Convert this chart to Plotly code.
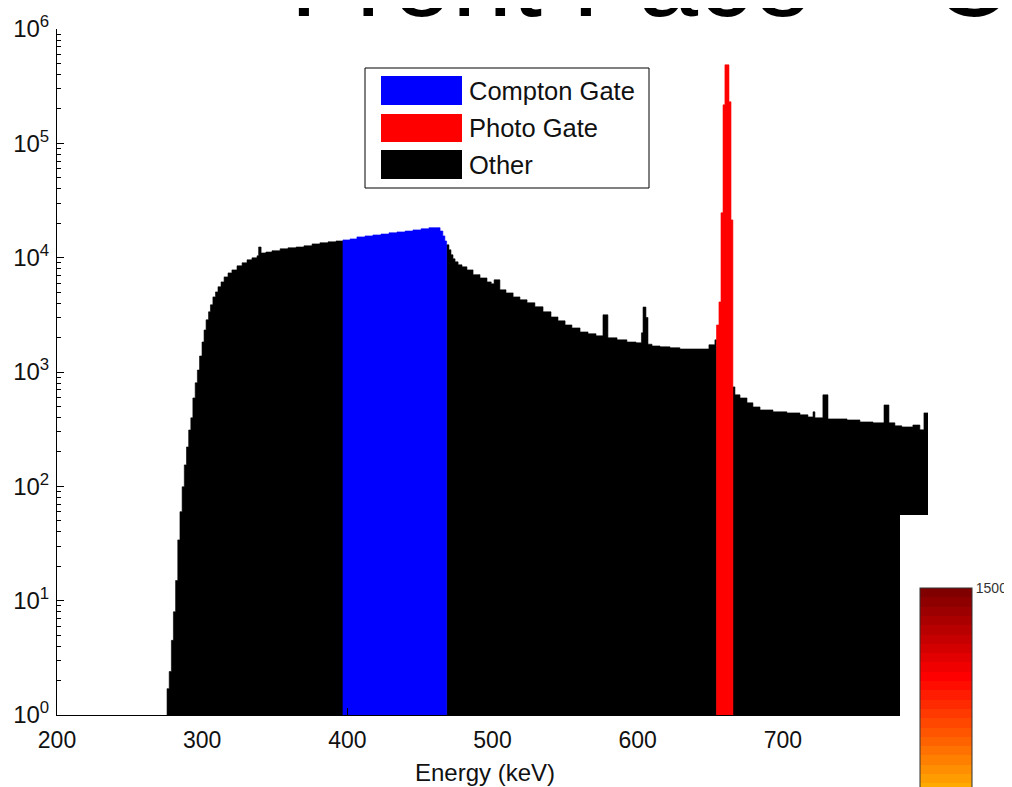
import plotly.graph_objects as go

# ---------------- data ----------------
# left edge of each histogram step (keV) and its counts
energy = [
    275.8, 277.3, 278.8, 280.2, 281.7, 283.2, 284.7, 286.2, 287.7, 289.2,
    290.7, 292.2, 293.6, 295.2, 296.7, 298.2, 299.9, 301.3, 302.7, 304.4,
    305.7, 307.4, 309.2, 310.9, 313.0, 315.1, 317.8, 320.5, 324.0, 327.5,
    330.9, 334.3, 337.8, 338.9, 340.6, 343.9, 348.1, 353.7, 359.1, 364.7,
    370.1, 375.7, 381.1, 386.7, 392.2,
    397.0, 401.9, 406.6, 412.2, 417.6, 423.2, 428.7, 434.2, 439.8, 445.2,
    450.8, 456.2, 463.9, 465.8, 467.2,
    468.4, 470.0, 471.4, 472.8, 474.2, 476.3, 479.0, 482.4, 486.6, 491.4,
    496.2, 499.1, 501.1, 505.1, 509.3, 514.2, 518.9, 523.8, 529.2, 534.8,
    540.3, 545.1, 550.0, 554.7, 560.3, 565.8, 571.3, 576.1, 579.5, 585.8,
    592.6, 598.9, 602.6, 603.7, 605.7, 607.1, 609.9, 615.4, 622.3, 629.1,
    637.4, 644.3, 649.1, 653.2,
    654.3, 656.0, 657.4, 658.8, 660.1, 662.9, 664.3,
    665.6, 667.0, 670.5, 675.3, 679.4, 684.3, 693.2, 702.8, 711.8, 717.3,
    720.8, 722.1, 727.6, 731.1, 735.9, 744.2, 753.1, 762.1, 769.7, 773.1,
    777.2, 782.0, 789.6, 794.4, 797.2,
]
counts = [
    1.7, 2.4, 4.5, 8.0, 15, 34, 60, 99, 154, 221,
    311, 397, 593, 804, 1040, 1380, 1830, 2330, 2860, 3360,
    3870, 4540, 5020, 5560, 6140, 6790, 7360, 7820, 8480, 9010,
    9570, 9960, 10380, 12400, 11000, 11200, 11500, 11950, 12200, 12400,
    12700, 13200, 13500, 13750, 14000,
    14300, 14600, 15200, 15500, 15800, 16100, 16500, 16800, 17100, 17500,
    17900, 18300, 17100, 15500, 14000,
    12950, 11700, 10600, 9770, 9190, 8650, 8310, 7820, 7100, 6650,
    6140, 5900, 6400, 5230, 4920, 4540, 4280, 4030, 3720, 3360,
    3030, 2800, 2580, 2430, 2240, 2160, 2070, 3160, 1990, 1910,
    1830, 1800, 2200, 3700, 3000, 1750, 1690, 1660, 1630, 1590,
    1590, 1590, 1730, 1910,
    2580, 4100, 24700, 217000, 486000, 231000, 21400,
    741, 631, 593, 537, 495, 466, 448, 439, 422, 405,
    448, 397, 631, 389, 389, 381, 366, 359, 515, 359,
    338, 331, 344, 312, 439,
]
energy_end = 800.0

compton_gate = (397.0, 468.4)
photo_gate = (654.3, 665.6)

categories = ["Compton Gate", "Photo Gate", "Other"]
colors = {"Compton Gate": "#0000FF", "Photo Gate": "#FF0000", "Other": "#000000"}

x_ticks = [200, 300, 400, 500, 600, 700]
y_ticks = [1, 10, 100, 1000, 10000, 100000, 1000000]
y_ticktext = ["10<sup>%d</sup>" % k for k in range(7)]
cbar_max = 1500

# ---------------- figure geometry helpers ----------------
W, H = 1012, 787
OFF = 8                      # page body margin of the browser
L, R, T, B = 57, 928, 29, 715   # plot area in window pixels


def px(xp):
    return (xp - L) / (R - L)


def py(yp):
    return (B - yp) / (B - T)


def category(e):
    if compton_gate[0] <= e < compton_gate[1]:
        return "Compton Gate"
    if photo_gate[0] <= e < photo_gate[1]:
        return "Photo Gate"
    return "Other"


edges = energy + [energy_end]
runs = []
for i, e in enumerate(energy):
    c = category(e)
    if runs and runs[-1][0] == c:
        runs[-1][1].append(i)
    else:
        runs.append([c, [i]])

BASE = 0.1
fig = go.Figure()
for order in ["Other", "Compton Gate", "Photo Gate"]:
    for cat, idx in runs:
        if cat != order:
            continue
        xs, ys = [edges[idx[0]]], [BASE]
        for k in idx:
            xs += [edges[k], edges[k + 1]]
            ys += [counts[k], counts[k]]
        xs.append(edges[idx[-1] + 1])
        ys.append(BASE)
        fig.add_trace(go.Scatter(
            x=xs, y=ys, mode="lines", fill="toself",
            fillcolor=colors[cat], line=dict(color=colors[cat], width=0.6),
            showlegend=False, hoverinfo="skip"))

# hot colormap (48 levels), shown from dark red at the top downwards
def hot(i, m=48):
    n = int(3 * m / 8)
    r = min(1.0, (i + 1) / n)
    g = min(1.0, max(0.0, (i + 1 - n) / n))
    b = min(1.0, max(0.0, (i + 1 - 2 * n) / (m - 2 * n)))
    return "rgb(%d,%d,%d)" % (round(r * 255), round(g * 255), round(b * 255))

levels = list(range(8, 48))
nb = len(levels)
cscale = []
for bnd in range(nb):
    col = hot(levels[nb - 1 - bnd])
    cscale.append([bnd / nb, col])
    cscale.append([(bnd + 1) / nb, col])

fig.add_trace(go.Scatter(
    x=[250], y=[0.5], mode="markers",
    marker=dict(color=[cbar_max], colorscale=cscale, cmin=0, cmax=cbar_max,
                showscale=True, size=1,
                colorbar=dict(x=px(920), xanchor="left", xpad=0, ypad=0,
                              y=py(588), yanchor="top", lenmode="pixels",
                              len=372, thickness=52, outlinewidth=1,
                              outlinecolor="#333333", tickvals=[cbar_max],
                              ticks="", ticklabelposition="outside",
                              tickfont=dict(size=14, color="#333333",
                                            family="Liberation Sans, Arial"))),
    showlegend=False, hoverinfo="skip"))

FONT = "Liberation Sans, Arial"
shapes = []
# white panel of the overlapping colorbar axes
shapes.append(dict(type="rect", xref="paper", yref="paper", x0=px(900), x1=px(1100),
                   y0=py(900), y1=py(515), fillcolor="white", line=dict(width=0),
                   layer="above"))
# legend box
shapes.append(dict(type="rect", xref="paper", yref="paper", x0=px(365), x1=px(649),
                   y0=py(188), y1=py(68), fillcolor="white",
                   line=dict(color="black", width=1), layer="above"))
annotations = []
sw_rows = [(76, 105), (114, 142), (150, 179)]
for cat, (t0, t1) in zip(categories, sw_rows):
    shapes.append(dict(type="rect", xref="paper", yref="paper", x0=px(381), x1=px(462),
                       y0=py(t1), y1=py(t0), fillcolor=colors[cat],
                       line=dict(width=0), layer="above"))
    annotations.append(dict(xref="paper", yref="paper", x=px(467), y=py((t0 + t1) / 2),
                            xanchor="left", yanchor="middle", text=cat, showarrow=False,
                            font=dict(size=25.5, color="#111111", family=FONT)))

# x axis label
annotations.append(dict(xref="paper", yref="paper", x=px(485), y=py(772),
                        xanchor="center", yanchor="middle", text="Energy (keV)",
                        showarrow=False, font=dict(size=24, color="#111111", family=FONT)))

# overlapping big title (cut by the top edge)
annotations.append(dict(xref="paper", yref="paper", x=px(288), y=py(16),
                        xanchor="left", yanchor="bottom", yshift=-25,
                        text="Front Face \u2013 Cs137", showarrow=False,
                        font=dict(size=108, color="black", family=FONT)))

fig.update_layout(
    width=W, height=H,
    margin=dict(l=L - OFF, r=W - (R - OFF), t=T - OFF, b=H - (B - OFF), pad=0,
                autoexpand=False),
    paper_bgcolor="white", plot_bgcolor="white",
    font=dict(family=FONT, size=22, color="#111111"),
    shapes=shapes, annotations=annotations,
    xaxis=dict(range=[200, 800], tickvals=x_ticks, ticks="inside", ticklen=7,
               tickcolor="black", showline=True, linecolor="black", linewidth=1,
               showgrid=False, zeroline=False, ticklabelstandoff=4,
               tickfont=dict(size=23)),
    yaxis=dict(type="log", range=[0, 6], tickvals=y_ticks, ticktext=y_ticktext,
               ticks="inside", ticklen=7, tickcolor="black", showline=True,
               linecolor="black", linewidth=1, showgrid=False, zeroline=False,
               tickfont=dict(size=24), ticklabelstandoff=2,
               minor=dict(ticks="inside", ticklen=4, tickcolor="black",
                          tickvals=[m * 10 ** k for k in range(6) for m in range(2, 10)])),
)

fig.write_html("out.html")
